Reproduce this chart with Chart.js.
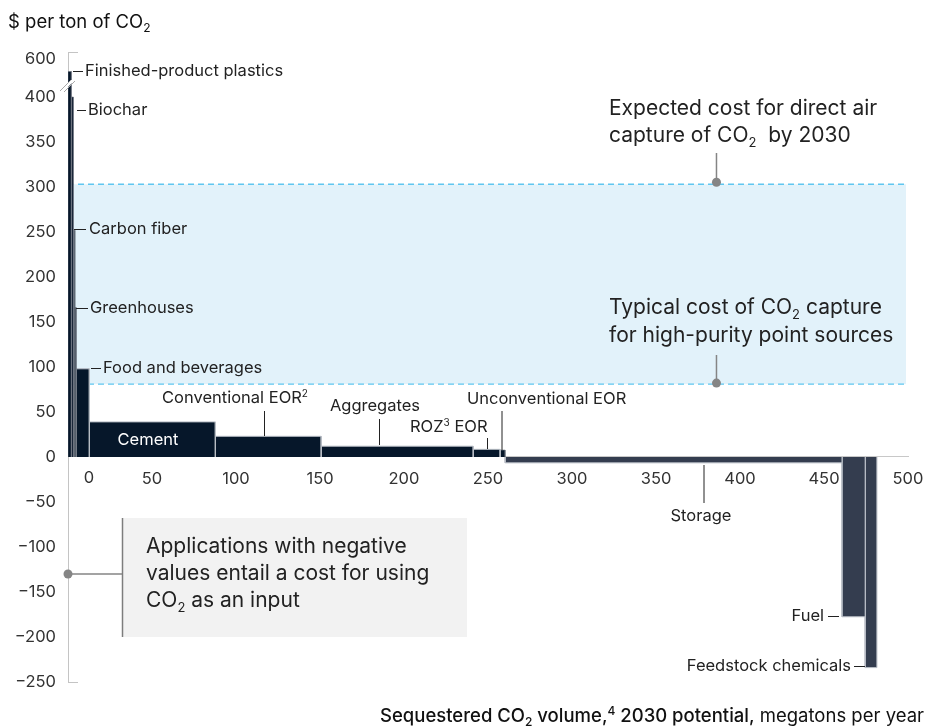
<!DOCTYPE html>
<html>
<head>
<meta charset="utf-8">
<script src="https://cdn.jsdelivr.net/npm/chart.js@4.4.0/dist/chart.umd.min.js"></script>
<style>
  html, body { margin: 0; padding: 0; background: #fff; }
</style>
</head>
<body>
<canvas id="chart" width="928" height="727"></canvas>
<script>
// cost curve data: bar widths are megatons per year, heights $ per ton of CO2
const categories = ['Finished-product plastics', 'Biochar', 'Carbon fiber', 'Greenhouses', 'Food and beverages',
  'Cement', 'Conventional EOR', 'Aggregates', 'ROZ EOR', 'Unconventional EOR', 'Storage', 'Fuel', 'Feedstock chemicals'];
const volumes = [2.0, 1.2, 0.9, 0.8, 7.8, 75, 63, 90.5, 16, 3, 200.5, 13.8, 7];
const costs = [535, 400, 252, 166, 98, 39, 23, 12, 8.5, 7.7, -6.5, -177.5, -234];
const yTickValues = [-250, -200, -150, -100, -50, 0, 50, 100, 150, 200, 250, 300, 350, 400, 600];
const xTickValues = [0, 50, 100, 150, 200, 250, 300, 350, 400, 450, 500];
const pointSourceCost = 81;
const directAirCost = 303;
const calloutVolume = 386;

// axis is broken above 400
const BREAK_AT = 400, BREAK_SCALE = 0.21;
const toAxis = v => v > BREAK_AT ? BREAK_AT + (v - BREAK_AT) * BREAK_SCALE : v;
const fmt = v => v < 0 ? '\u2212' + Math.abs(v) : String(v);

const FONT = 'Inter, "Liberation Sans", sans-serif';
Chart.defaults.font.family = FONT;
Chart.defaults.font.size = 16;
Chart.defaults.color = '#333';

const starts = [];
let acc = 0;
volumes.forEach(w => { starts.push(acc); acc += w; });

const datasets = categories.map((name, i) => {
  const x0 = starts[i], x1 = starts[i] + volumes[i], v = toAxis(costs[i]);
  return {
    label: name,
    data: [{x: x0, y: 0}, {x: x0, y: v}, {x: x1, y: v}, {x: x1, y: 0}],
    backgroundColor: costs[i] < 0 ? '#343d4f' : '#06172a',
    borderColor: volumes[i] < 5 ? '#6d7480' : '#b8bdc5',
    borderWidth: volumes[i] < 5 ? 0.6 : 1,
    fill: 'origin',
    pointRadius: 0,
    tension: 0
  };
});

function rich(ctx, x, y, parts, align) {
  let w = 0;
  parts.forEach(p => {
    ctx.font = (p.w || 400) + ' ' + p.s + 'px ' + FONT;
    p.width = ctx.measureText(p.t).width;
    w += p.width;
  });
  let cx = align === 'right' ? x - w : align === 'center' ? x - w / 2 : x;
  ctx.textAlign = 'left';
  ctx.textBaseline = 'middle';
  parts.forEach(p => {
    ctx.font = (p.w || 400) + ' ' + p.s + 'px ' + FONT;
    ctx.fillStyle = p.c || ctx.fillStyle;
    ctx.fillText(p.t, cx, y + (p.dy || 0));
    cx += p.width;
  });
}

function line(ctx, x1, y1, x2, y2, color, width) {
  ctx.beginPath();
  ctx.moveTo(x1, y1);
  ctx.lineTo(x2, y2);
  ctx.strokeStyle = color;
  ctx.lineWidth = width || 1;
  ctx.stroke();
}

function dot(ctx, x, y) {
  ctx.beginPath();
  ctx.arc(x, y, 4.5, 0, Math.PI * 2);
  ctx.fillStyle = '#858585';
  ctx.fill();
}

const band = {
  id: 'band',
  beforeDatasetsDraw(chart) {
    const {ctx, scales: {x, y}} = chart;
    const left = x.getPixelForValue(0), right = x.getPixelForValue(500) - 2;
    const top = y.getPixelForValue(directAirCost), bot = y.getPixelForValue(pointSourceCost);
    ctx.save();
    ctx.fillStyle = '#e2f2fa';
    ctx.fillRect(left, top, right - left, bot - top);
    ctx.setLineDash([6, 4]);
    line(ctx, left, top, right, top, '#5fc6f0', 1.4);
    line(ctx, left, bot, right, bot, '#5fc6f0', 1.4);
    ctx.restore();
  }
};

const notes = {
  id: 'notes',
  afterDatasetsDraw(chart) {
    const {ctx, scales: {x, y}, chartArea} = chart;
    const ax = chartArea.left;
    ctx.save();

    // axis caps and break mark
    line(ctx, ax, chartArea.top + 0.5, ax + 10, chartArea.top + 0.5, '#c4c4c4', 1);
    line(ctx, ax, chartArea.bottom + 0.5, ax + 10, chartArea.bottom + 0.5, '#c4c4c4', 1);
    ctx.beginPath();
    ctx.moveTo(60, 91); ctx.lineTo(71, 80); ctx.lineTo(75, 80); ctx.lineTo(64, 91); ctx.closePath();
    ctx.fillStyle = '#fff';
    ctx.fill();
    line(ctx, 60, 91, 71, 80, '#a8a8a8', 1);
    line(ctx, 64, 92, 75, 81, '#a8a8a8', 1);

    // x tick label for zero, shifted off the axis
    ctx.fillStyle = '#333';
    rich(ctx, x.getPixelForValue(0) + 21, y.getPixelForValue(0) + 21, [{t: '0', s: 16.5}], 'center');

    // bar labels with leaders
    const dark = '#222';
    const side = [
      ['Finished-product plastics', 85, 71, 73, 83],
      ['Biochar', 88, 110, 77, 86],
      ['Carbon fiber', 89, 229, 74, 86],
      ['Greenhouses', 90, 308, 76, 88],
      ['Food and beverages', 103, 368, 91, 101]
    ];
    side.forEach(s => {
      line(ctx, s[3], s[2] + 0.5, s[4], s[2] + 0.5, dark, 1);
      ctx.fillStyle = dark;
      rich(ctx, s[1], s[2], [{t: s[0], s: 16.5}], 'left');
    });

    rich(ctx, 148, 440, [{t: 'Cement', s: 16.5, c: '#fff'}], 'center');

    ctx.fillStyle = dark;
    rich(ctx, 162, 398, [{t: 'Conventional EOR', s: 16.5, c: dark}, {t: '2', s: 10, dy: -4}], 'left');
    line(ctx, 264.5, 411, 264.5, 436, dark, 1);
    rich(ctx, 375, 406, [{t: 'Aggregates', s: 16.5}], 'center');
    line(ctx, 379.5, 419, 379.5, 445, dark, 1);
    rich(ctx, 410, 427, [{t: 'ROZ', s: 16.5}, {t: '3', s: 10, dy: -4}, {t: ' EOR', s: 16.5}], 'left');
    line(ctx, 487.5, 438, 487.5, 449, dark, 1);
    rich(ctx, 467, 399, [{t: 'Unconventional EOR', s: 16.5}], 'left');
    line(ctx, 502, 411, 502, 450, dark, 1);
    line(ctx, 704, 465, 704, 503, dark, 1);
    rich(ctx, 701, 516, [{t: 'Storage', s: 16.5}], 'center');
    rich(ctx, 824, 616, [{t: 'Fuel', s: 16.5}], 'right');
    line(ctx, 828, 616.5, 839, 616.5, dark, 1);
    rich(ctx, 851, 666, [{t: 'Feedstock chemicals', s: 16.5}], 'right');
    line(ctx, 854, 666.5, 865, 666.5, dark, 1);

    // callouts for the capture-cost band
    const cx = x.getPixelForValue(calloutVolume);
    const topY = y.getPixelForValue(directAirCost), botY = y.getPixelForValue(pointSourceCost);
    line(ctx, cx, 153, cx, topY - 2, '#858585', 1.5);
    dot(ctx, cx, topY - 2);
    line(ctx, cx, 355, cx, botY - 1, '#858585', 1.5);
    dot(ctx, cx, botY - 1);
    ctx.fillStyle = dark;
    rich(ctx, 609, 109, [{t: 'Expected cost for direct air', s: 21}], 'left');
    rich(ctx, 609, 136, [{t: 'capture of CO', s: 21}, {t: '2', s: 13, dy: 7}, {t: '  by 2030', s: 21}], 'left');
    rich(ctx, 609, 308, [{t: 'Typical cost of CO', s: 21}, {t: '2', s: 13, dy: 7}, {t: ' capture', s: 21}], 'left');
    rich(ctx, 609, 336, [{t: 'for high-purity point sources', s: 21}], 'left');

    // negative-value note
    ctx.fillStyle = '#f2f2f2';
    ctx.fillRect(122, 518, 345, 119);
    line(ctx, 122.5, 518, 122.5, 637, '#7d7d7d', 1.5);
    line(ctx, ax, 574, 122, 574, '#858585', 1.5);
    dot(ctx, ax, 574);
    ctx.fillStyle = dark;
    rich(ctx, 146, 547, [{t: 'Applications with negative', s: 21}], 'left');
    rich(ctx, 146, 574, [{t: 'values entail a cost for using', s: 21}], 'left');
    rich(ctx, 146, 601, [{t: 'CO', s: 21}, {t: '2', s: 13, dy: 7}, {t: ' as an input', s: 21}], 'left');

    // axis titles
    ctx.fillStyle = '#111';
    rich(ctx, 8, 22, [{t: '$ per ton of CO', s: 18.5}, {t: '2', s: 12, dy: 6}], 'left');
    rich(ctx, 924, 716, [
      {t: 'Sequestered CO', s: 18.5, w: 500}, {t: '2', s: 12, w: 500, dy: 6}, {t: ' volume,', s: 18.5, w: 500},
      {t: '4', s: 12, w: 500, dy: -5}, {t: ' 2030 potential,', s: 18.5, w: 500}, {t: ' megatons per year', s: 18.5, w: 400}
    ], 'right');
    ctx.restore();
  }
};

new Chart(document.getElementById('chart'), {
  type: 'line',
  data: { datasets },
  plugins: [band, notes],
  options: {
    responsive: false,
    animation: false,
    devicePixelRatio: 1,
    layout: { padding: { top: 52, left: 0, right: 20, bottom: 45 } },
    plugins: { legend: { display: false }, tooltip: { enabled: false } },
    scales: {
      x: {
        type: 'linear',
        min: 0,
        max: 500,
        position: { y: 0 },
        grid: { display: false, drawTicks: false },
        border: { color: '#c8c8c8', width: 1 },
        afterBuildTicks: s => { s.ticks = xTickValues.map(v => ({ value: v })); },
        afterFit: s => { s.paddingLeft = 0; s.paddingRight = 0; },
        ticks: { padding: 12, color: '#333', font: { size: 16.5 }, callback: v => v === 0 ? '' : String(v) }
      },
      y: {
        min: -250,
        max: 450,
        grid: { display: false, drawTicks: false },
        border: { color: '#c4c4c4', width: 1 },
        afterBuildTicks: s => { s.ticks = yTickValues.map(v => ({ value: toAxis(v) })); },
        afterFit: s => { s.width = 68; },
        ticks: { padding: 12, color: '#333', font: { size: 16.5 }, autoSkip: false, callback: (v, i) => fmt(yTickValues[i]) }
      }
    }
  }
});
</script>
</body>
</html>
